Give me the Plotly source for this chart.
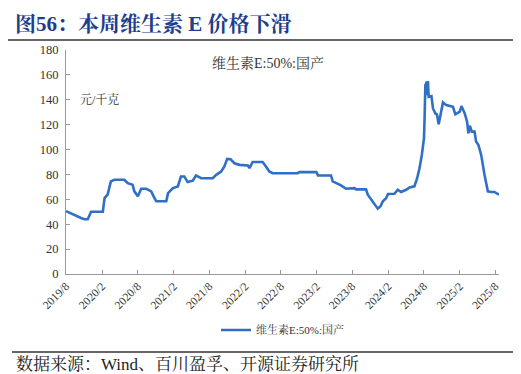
import plotly.graph_objects as go

dates = [
    "2019-08-01", "2019-09-05", "2019-10-17", "2019-11-03", "2019-11-20", "2019-12-07",
    "2020-02-05", "2020-02-14", "2020-03-01", "2020-03-17", "2020-04-04", "2020-05-25",
    "2020-06-11", "2020-07-06", "2020-07-15", "2020-08-02", "2020-08-19", "2020-09-14",
    "2020-10-09", "2020-10-26", "2020-11-04", "2020-12-25", "2021-01-03", "2021-01-28",
    "2021-02-22", "2021-03-10", "2021-03-27", "2021-04-13", "2021-05-09", "2021-05-26",
    "2021-06-21", "2021-08-19", "2021-09-06", "2021-10-01", "2021-10-18", "2021-11-01",
    "2021-11-18", "2021-12-08", "2022-01-03", "2022-02-15", "2022-02-23", "2022-03-11",
    "2022-05-01", "2022-05-18", "2022-06-04", "2022-06-21", "2022-10-27", "2022-11-05",
    "2023-01-30", "2023-02-08", "2023-04-15", "2023-04-24", "2023-05-19", "2023-06-05",
    "2023-07-01", "2023-08-13", "2023-08-21", "2023-10-11", "2023-10-20", "2023-11-06",
    "2023-11-23", "2023-12-10", "2023-12-24", "2024-01-05", "2024-01-22", "2024-01-31",
    "2024-03-04", "2024-03-21", "2024-04-07", "2024-05-03", "2024-05-20", "2024-06-14",
    "2024-06-28", "2024-07-10", "2024-07-22", "2024-08-02", "2024-08-05", "2024-08-09",
    "2024-08-16", "2024-08-19", "2024-08-22", "2024-08-26", "2024-09-09", "2024-09-17",
    "2024-09-29", "2024-10-07", "2024-10-16", "2024-10-26", "2024-11-07", "2024-11-24",
    "2024-12-28", "2025-01-09", "2025-02-01", "2025-02-09", "2025-02-26", "2025-03-10",
    "2025-03-17", "2025-03-24", "2025-04-03", "2025-04-17", "2025-04-25", "2025-05-07",
    "2025-05-21", "2025-06-07", "2025-06-24", "2025-07-11", "2025-07-28", "2025-08-20",
]
prices = [
    50.5, 47.7, 45.0, 44.0, 44.0, 50.0,
    50.0, 61.0, 64.0, 74.4, 75.7, 75.7,
    73.0, 71.7, 66.4, 62.4, 68.5, 68.5,
    66.4, 61.0, 58.4, 58.4, 65.0, 69.0,
    70.4, 78.4, 78.4, 73.9, 75.0, 79.2,
    77.0, 77.0, 79.7, 82.4, 86.4, 92.5,
    92.3, 89.0, 87.7, 87.2, 85.0, 90.0,
    90.0, 86.4, 82.4, 81.0, 81.0, 81.9,
    81.9, 79.2, 79.2, 74.4, 72.5, 71.2,
    68.5, 69.0, 68.0, 68.0, 63.7, 59.7,
    55.7, 52.5, 54.4, 58.4, 61.0, 64.3,
    64.5, 67.7, 65.9, 67.7, 69.6, 70.4,
    77.0, 85.0, 95.7, 109.0, 125.0, 151.7,
    154.4, 143.7, 155.0, 142.4, 143.0, 133.0,
    129.0, 128.3, 120.3, 127.7, 137.9, 135.7,
    134.4, 128.3, 130.4, 135.0, 129.0, 122.4,
    113.0, 119.2, 114.4, 114.4, 106.4, 103.7,
    95.7, 79.7, 66.4, 65.9, 65.9, 63.7,
]
tick_dates = ["2019-08-01", "2020-02-01", "2020-08-01", "2021-02-01", "2021-08-01",
              "2022-02-01", "2022-08-01", "2023-02-01", "2023-08-01", "2024-02-01",
              "2024-08-01", "2025-02-01", "2025-08-01"]
tick_labels = ["2019/8", "2020/2", "2020/8", "2021/2", "2021/8", "2022/2", "2022/8",
               "2023/2", "2023/8", "2024/2", "2024/8", "2025/2", "2025/8"]
series_name = "维生素E:50%:国产"

SERIF = "Times New Roman, Liberation Serif, Noto Serif CJK SC, Noto Sans CJK SC, serif"

fig = go.Figure()
fig.add_trace(go.Scatter(
    x=dates, y=prices, mode="lines", name=series_name,
    line=dict(color="#2F6FC6", width=2.6),
))

W, H = 521, 374
L, R, T, B = 58, 30, 42, 108
pw, ph = W - L - R, H - T - B

def px(x):
    return (x - L) / pw

def py(y):
    return (H - B - y) / ph

fig.update_layout(
    width=W, height=H,
    margin=dict(l=L, r=R, t=T, b=B),
    paper_bgcolor="white", plot_bgcolor="white",
    font=dict(family=SERIF, color="#222"),
    showlegend=True,
    legend=dict(orientation="h", x=0.5, xanchor="center", y=py(322), yanchor="middle",
                font=dict(size=11, family=SERIF, color="#333"),
                bgcolor="rgba(0,0,0,0)"),
    xaxis=dict(
        type="date", range=["2019-08-01", "2025-08-20"],
        tickvals=tick_dates, ticktext=tick_labels, tickangle=-45,
        ticks="inside", ticklen=4, tickcolor="#999",
        showline=True, linecolor="#999", linewidth=1,
        showgrid=False, zeroline=False,
        tickfont=dict(size=11.5, family=SERIF, color="#333"),
    ),
    yaxis=dict(
        range=[0, 180], tick0=0, dtick=20,
        ticks="inside", ticklen=4, tickcolor="#999",
        showline=True, linecolor="#999", linewidth=1,
        showgrid=False, zeroline=False,
        tickfont=dict(size=12.5, family=SERIF, color="#333"),
        ticklabelstandoff=4,
    ),
    annotations=[
        dict(text="<b>图56：本周维生素 E 价格下滑</b>", xref="paper", yref="paper",
             x=px(5), y=py(16), xanchor="left", yanchor="middle", showarrow=False,
             font=dict(size=21, color="#1C3E8C", family=SERIF)),
        dict(text="数据来源：Wind、百川盈孚、开源证券研究所", xref="paper", yref="paper",
             x=px(6), y=py(356), xanchor="left", yanchor="middle", showarrow=False,
             font=dict(size=17, color="#222", family=SERIF)),
        dict(text=series_name, xref="paper", yref="paper",
             x=px(260), y=py(55), xanchor="center", yanchor="middle", showarrow=False,
             font=dict(size=14, color="#333", family=SERIF)),
        dict(text="元/千克", xref="paper", yref="paper",
             x=px(70), y=py(92), xanchor="left", yanchor="middle", showarrow=False,
             font=dict(size=12, color="#333", family=SERIF)),
    ],
    shapes=[
        dict(type="line", xref="paper", yref="paper", x0=px(0), x1=px(516),
             y0=py(32), y1=py(32), line=dict(color="#333", width=1.5)),
        dict(type="line", xref="paper", yref="paper", x0=px(4), x1=px(514),
             y0=py(344), y1=py(344), line=dict(color="#333", width=1.5)),
    ],
)

fig.write_html("out.html")
